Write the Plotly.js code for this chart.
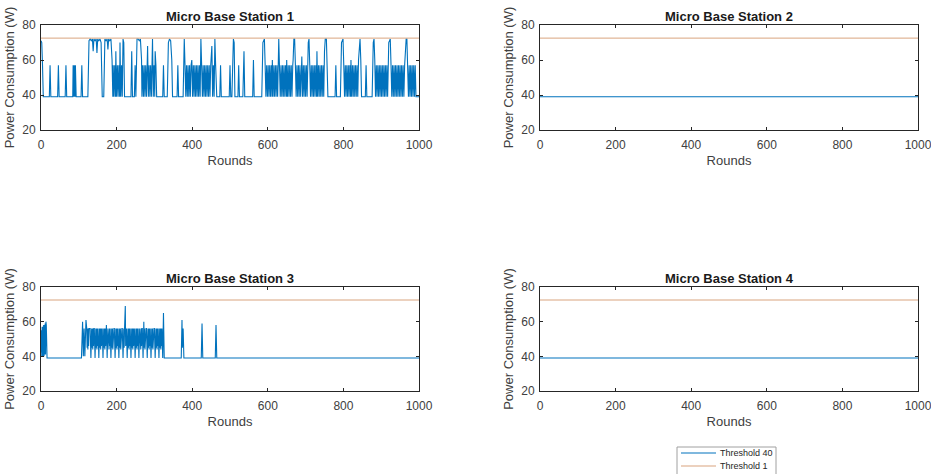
<!DOCTYPE html>
<html>
<head>
<meta charset="utf-8">
<script src="https://cdn.plot.ly/plotly-3.0.1.min.js"></script>
<style>html,body{margin:0;padding:0;background:#fff;}#chart{width:931px;height:474px;}</style>
</head>
<body>
<div id="chart"></div>
<script>
// ---------- DATA ----------
var stationTitles = ["Micro Base Station 1", "Micro Base Station 2", "Micro Base Station 3", "Micro Base Station 4"];
var legendNames = ["Threshold 40", "Threshold 1"];
var xTicks = [0, 200, 400, 600, 800, 1000];
var yTicks = [20, 40, 60, 80];
var thresholdLine = [[0, 72.5], [1000, 72.5]];

// [round, power (W)]
var station1 = [
[0,71],[2,70],[4,57],[6,39],
[22,39],[24,57],[26,39],
[44,39],[46,57],[48,39],
[64,39],[66,57],[68,39],
[84,39],[85,57],[87,39],[88,57],[90,39],[91,57],[93,39],
[106,39],[108,57],[110,39],
[124,39],[127,71],[130,72],[133,71],[136,72],[138,65],[140,72],[143,71],[146,72],[148,64],[150,72],[153,71],[156,72],[159,70],[162,39],
[166,39],[169,72],[172,71],[175,72],[177,66],[179,72],[182,71],[185,72],[188,60],[190,39],
[191,57],[193,39],[195,57],[197,39],[198,65],[200,39],[202,57],[204,39],[206,57],[208,39],[209,70],[211,39],[213,57],[215,39],[217,72],[219,70],[221,39],
[238,39],[240,65],[242,39],[247,39],[249,57],[251,39],
[252,60],[254,72],[257,72],[260,71],[263,72],[266,60],
[267,39],[269,57],[271,39],[273,57],[275,39],[277,57],[279,39],[282,68],[284,39],[286,57],[288,39],[290,57],[292,39],[295,72],[297,39],[299,57],[301,39],[302,65],[304,57],[306,39],
[322,39],[324,57],[326,39],
[334,39],[337,70],[340,72],[343,71],[346,60],[348,39],
[360,39],[362,57],[364,39],
[376,39],[379,72],[381,57],[383,39],[385,57],[387,39],[389,57],[391,39],[393,57],[395,39],[397,57],[399,60],[401,39],[403,57],[405,39],[407,57],[409,39],[411,57],[413,39],[415,57],[417,39],[419,57],[421,39],[423,72],[425,57],[427,39],[429,57],[431,39],[433,57],[435,39],[437,57],[439,39],[441,57],[443,39],[445,57],[447,39],[449,57],[452,68],[454,39],[456,57],[458,39],[460,72],[462,57],[465,39],
[473,39],[475,57],[477,39],
[498,39],[500,57],[502,39],
[505,39],[507,70],[509,72],[511,70],[513,39],
[521,39],[523,57],[525,39],
[534,39],[537,65],[539,39],
[560,39],[562,60],[564,39],
[584,39],[587,70],[589,72],[591,72],[593,57],
[595,39],[597,57],[599,39],[601,57],[603,39],[605,57],[607,39],[609,57],[611,39],[612,60],[614,39],[616,57],[618,39],[620,57],[622,39],[624,57],[626,39],[629,72],[631,57],[633,39],[635,57],[637,39],[639,57],[641,39],[643,57],[645,39],[647,57],[649,39],[650,60],[652,39],[654,57],[656,39],[658,57],[660,39],[662,57],[664,39],[666,57],[667,60],[669,72],[671,72],[673,57],
[675,39],[677,57],[679,39],[681,57],[683,39],[685,57],[687,39],[690,62],[692,39],[694,57],[696,39],[698,57],[700,39],[702,57],[704,39],[707,70],[709,72],[711,57],[713,39],[715,57],[717,39],[719,57],[721,39],[723,57],[725,39],[727,57],[729,39],[730,65],[732,39],[734,57],[736,39],[738,57],[740,39],[742,57],[744,39],[746,57],[748,39],[750,65],[752,72],[755,72],[757,60],[759,39],
[778,39],[780,57],[782,39],
[792,39],[795,70],[797,72],[799,72],[801,57],
[803,39],[805,57],[807,39],[809,57],[811,39],[813,57],[815,39],[817,57],[819,39],[820,60],[822,39],[824,57],[826,39],[828,57],[830,39],[832,57],[834,39],[836,57],[838,39],[840,60],[842,72],[844,72],[846,60],[848,39],
[858,39],[860,57],[862,39],
[876,39],[879,70],[881,72],[883,60],[885,39],
[887,57],[889,39],[891,57],[893,39],[895,57],[897,39],[899,57],[901,39],[903,57],[905,39],[907,57],[909,39],[911,57],[913,39],[915,57],[917,39],[920,70],[922,72],[924,72],[926,57],[928,39],
[930,57],[932,39],[934,57],[936,39],[938,57],[940,39],[942,57],[944,39],[946,57],[948,39],[950,57],[952,39],[954,57],[956,39],[958,57],[960,39],[962,57],[964,70],[966,72],[968,72],[970,57],[972,39],[974,57],[976,39],[978,57],[980,39],[982,57],[984,39],[986,57],[988,39],[990,57],[992,39],[1000,39]
];

var station2 = [[0,39],[1000,39]];

var station3 = [
[0,42],[1,55],[2,40],[3,57],[4,40],[5,57],[6,40],[7,58],[8,40],[9,58],[10,41],[11,59],[12,41],[13,60],[14,58],[16,39],
[107,39],[110,60],[112,40],[114,56],[116,40],[119,61],[121,56],
[122,45],[123,56],[124,44],[125,56],[126,46],[127,56],[130,56],[132,39],
[134,56],[135,45],[136,56],[137,44],[138,56],[139,46],[140,56],[141,56],[143,39],
[145,56],[146,45],[147,56],[148,44],[149,56],[150,46],[151,56],[153,39],
[155,56],[156,45],[157,56],[158,44],[159,56],[160,46],[161,56],[162,56],[164,39],
[166,56],[167,45],[168,56],[169,44],[170,56],[171,46],[173,58],[175,39],
[177,56],[178,45],[179,56],[180,44],[181,56],[182,46],[183,56],[185,39],
[187,56],[188,45],[189,56],[190,44],[191,56],[192,46],[193,56],[194,56],[196,39],
[198,56],[199,45],[200,56],[201,44],[202,56],[203,46],[204,56],[206,39],
[208,56],[209,45],[210,56],[211,44],[212,56],[213,46],[214,56],[215,56],[217,39],
[219,56],[220,45],[221,56],[223,69],[224,46],[225,56],[226,56],[228,39],
[230,56],[231,45],[232,56],[233,44],[234,56],[235,46],[236,56],[238,39],
[240,56],[241,45],[242,56],[243,44],[244,56],[245,46],[246,56],[247,56],[249,39],
[251,56],[252,45],[253,56],[254,44],[255,56],[256,46],[257,56],[259,39],
[261,56],[262,45],[263,56],[264,44],[265,56],[266,46],[267,56],[268,56],[270,39],
[272,60],[273,45],[274,56],[275,44],[276,56],[277,46],[278,56],[279,56],[281,39],
[283,56],[284,45],[285,56],[286,44],[287,56],[288,46],[289,56],[291,39],
[293,56],[294,45],[295,56],[296,44],[297,56],[298,46],[299,56],[300,56],[302,39],
[304,56],[305,45],[306,56],[307,44],[308,56],[309,46],[310,56],[312,39],
[314,56],[315,45],[316,56],[317,44],[318,56],[319,46],[320,56],[322,39],[324,65],[326,39],
[371,39],[373,61],[374,45],[376,56],[378,39],
[424,39],[426,59],[428,39],
[461,39],[463,58],[465,39],[1000,39]
];

var station4 = [[0,39],[1000,39]];

// ---------- CHART ----------
var stations = [station1, station2, station3, station4];
var SIG = '#0072BD';
var THR = '#D9A47E';
var FONT = 'Arial, "Liberation Sans", sans-serif';

var traces = [];
stations.forEach(function (s, i) {
  var ax = i === 0 ? '' : String(i + 1);
  traces.push({
    x: s.map(function (p) { return p[0]; }),
    y: s.map(function (p) { return p[1]; }),
    type: 'scatter', mode: 'lines',
    line: {color: SIG, width: 1.1},
    name: legendNames[0], showlegend: false,
    xaxis: 'x' + ax, yaxis: 'y' + ax, hoverinfo: 'skip'
  });
  traces.push({
    x: thresholdLine.map(function (p) { return p[0]; }),
    y: thresholdLine.map(function (p) { return p[1]; }),
    type: 'scatter', mode: 'lines',
    line: {color: THR, width: 1},
    name: legendNames[1], showlegend: false,
    xaxis: 'x' + ax, yaxis: 'y' + ax, hoverinfo: 'skip'
  });
});

var W = 931, H = 474;
var colX = [[41, 419], [540, 918]];
var rowY = [[25, 130], [287, 391]];

function xAxis(dom, anchor) {
  return {
    domain: [dom[0] / W, dom[1] / W], anchor: anchor,
    range: [0, 1000], tickvals: xTicks, ticktext: xTicks.map(String),
    ticks: 'inside', ticklen: 3, tickwidth: 1, tickcolor: '#262626',
    showline: true, linecolor: '#262626', linewidth: 1, mirror: 'ticks',
    showgrid: false, zeroline: false, automargin: false,
    ticklabeloverflow: 'allow',
    tickfont: {family: FONT, size: 12, color: '#404040'},
    ticklabelstandoff: 4,
    title: {text: 'Rounds', font: {family: FONT, size: 13, color: '#404040'}, standoff: 4}
  };
}
function yAxis(dom, anchor) {
  return {
    domain: [1 - dom[1] / H, 1 - dom[0] / H], anchor: anchor,
    range: [20, 80], tickvals: yTicks, ticktext: yTicks.map(String),
    ticks: 'inside', ticklen: 3, tickwidth: 1, tickcolor: '#262626',
    showline: true, linecolor: '#262626', linewidth: 1, mirror: 'ticks',
    showgrid: false, zeroline: false, automargin: false,
    ticklabeloverflow: 'allow',
    tickfont: {family: FONT, size: 12, color: '#404040'},
    ticklabelstandoff: 2,
    title: {text: 'Power Consumption (W)', font: {family: FONT, size: 13, color: '#404040'}, standoff: 4}
  };
}

// manual legend (MATLAB-style compact box), entries from legendNames
var legBox = {x0: 677, x1: 776, y0: 447, y1: 480};
var legRows = [453, 466];
var legColors = [SIG, THR];
var shapes = [{
  type: 'rect', xref: 'paper', yref: 'paper',
  x0: legBox.x0 / W, x1: legBox.x1 / W, y0: 1 - legBox.y1 / H, y1: 1 - legBox.y0 / H,
  line: {color: '#a0a0a0', width: 1}, fillcolor: '#ffffff'
}];
var annotations = [];
legendNames.forEach(function (n, k) {
  shapes.push({
    type: 'line', xref: 'paper', yref: 'paper',
    x0: 681 / W, x1: 716 / W, y0: 1 - legRows[k] / H, y1: 1 - legRows[k] / H,
    line: {color: legColors[k], width: 1.2}
  });
  annotations.push({
    text: n, xref: 'paper', yref: 'paper', x: 718 / W, y: 1 - legRows[k] / H,
    xanchor: 'left', yanchor: 'middle', showarrow: false,
    font: {family: FONT, size: 9, color: '#262626'}
  });
});
stationTitles.forEach(function (t, i) {
  var c = colX[i % 2], r = rowY[Math.floor(i / 2)];
  annotations.push({
    text: '<b>' + t + '</b>', xref: 'paper', yref: 'paper',
    x: (c[0] + c[1]) / 2 / W, y: 1 - (r[0] - 9) / H,
    xanchor: 'center', yanchor: 'middle', showarrow: false,
    font: {family: FONT, size: 13, color: '#1a1a1a'}
  });
});

var layout = {
  width: W, height: H,
  margin: {l: 0, r: 0, t: 0, b: 0, pad: 0, autoexpand: false},
  paper_bgcolor: '#ffffff', plot_bgcolor: '#ffffff',
  font: {family: FONT, color: '#262626'},
  xaxis: xAxis(colX[0], 'y'), yaxis: yAxis(rowY[0], 'x'),
  xaxis2: xAxis(colX[1], 'y2'), yaxis2: yAxis(rowY[0], 'x2'),
  xaxis3: xAxis(colX[0], 'y3'), yaxis3: yAxis(rowY[1], 'x3'),
  xaxis4: xAxis(colX[1], 'y4'), yaxis4: yAxis(rowY[1], 'x4'),
  showlegend: false,
  shapes: shapes,
  annotations: annotations
};

Plotly.newPlot('chart', traces, layout, {staticPlot: true, displayModeBar: false});
</script>
</body>
</html>
